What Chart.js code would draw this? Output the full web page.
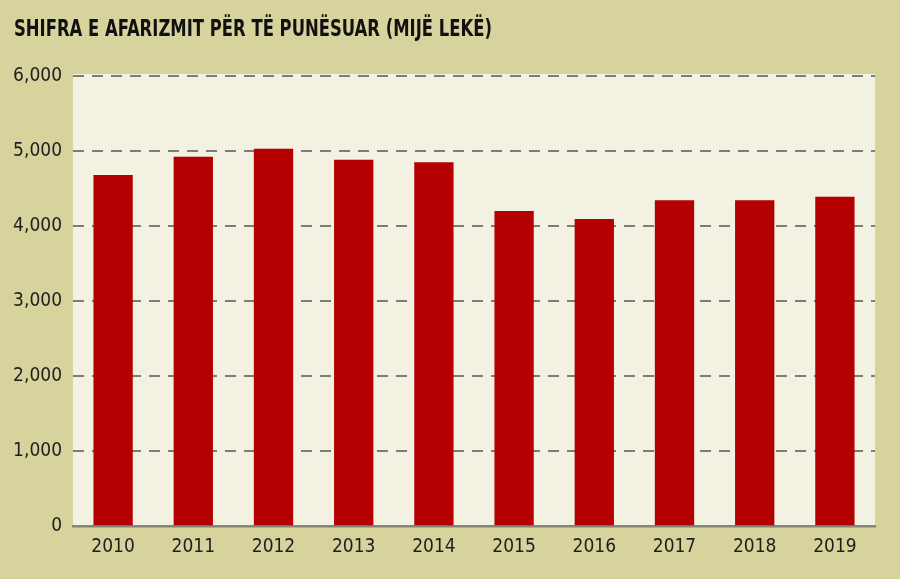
<!DOCTYPE html>
<html>
<head>
<meta charset="utf-8">
<script src="https://cdn.jsdelivr.net/npm/chart.js@4"></script>
<style>
  html, body { margin: 0; padding: 0; background: #d6d39d; }
  #wrap { width: 900px; height: 579px; }
</style>
</head>
<body>
<div id="wrap"><canvas id="bar_chart" width="900" height="579"></canvas></div>
<script>
var chartTitle = "SHIFRA E AFARIZMIT PËR TË PUNËSUAR (MIJË LEKË)";
var years = ["2010", "2011", "2012", "2013", "2014", "2015", "2016", "2017", "2018", "2019"];
var turnover = [4680, 4925, 5030, 4885, 4850, 4200, 4095, 4345, 4345, 4390];
var yTicks = [0, 1000, 2000, 3000, 4000, 5000, 6000];

var narrow = "'DejaVu Sans Condensed', 'Liberation Sans Narrow', sans-serif";

var backdrop = {
    id: 'backdrop',
    beforeDraw: function (chart) {
        var ctx = chart.ctx, a = chart.chartArea;
        ctx.save();
        ctx.fillStyle = '#d6d39d';
        ctx.fillRect(0, 0, chart.width, chart.height);
        ctx.fillStyle = '#f2f1e2';
        ctx.fillRect(a.left, a.top - 2, a.right - a.left, a.bottom - a.top + 2);
        ctx.restore();
    },
    afterDraw: function (chart) {
        var ctx = chart.ctx;
        ctx.save();
        ctx.font = "bold 21px " + narrow;
        ctx.fillStyle = '#111';
        ctx.textBaseline = 'middle';
        var w = ctx.measureText(chartTitle).width;
        ctx.translate(14, 30);
        ctx.scale(478 / w, 1.12);
        ctx.fillText(chartTitle, 0, 0);
        ctx.restore();
    }
};

new Chart(document.getElementById("bar_chart").getContext("2d"), {
    type: 'bar',
    data: {
        labels: years,
        datasets: [{
            data: turnover,
            backgroundColor: '#b40000',
            borderWidth: 0,
            barPercentage: 0.98,
            categoryPercentage: 0.5
        }]
    },
    options: {
        responsive: false,
        animation: false,
        layout: { padding: { left: 0, right: 25, top: 76, bottom: 12 } },
        plugins: { legend: { display: false }, tooltip: { enabled: false }, title: { display: false } },
        scales: {
            x: {
                grid: { display: false, drawTicks: false },
                border: { display: true, color: '#85857a', width: 2.5 },
                ticks: { color: '#1e1e1e', padding: 9, font: { family: narrow, size: 19 } }
            },
            y: {
                min: 0, max: 6000,
                afterFit: function (s) { s.width = 73; },
                afterBuildTicks: function (s) { s.ticks = yTicks.map(function (v) { return { value: v }; }); },
                border: { display: false, dash: [11, 8] },
                grid: { color: '#7d7d74', lineWidth: 2, drawTicks: false },
                ticks: {
                    color: '#1e1e1e', padding: 11,
                    font: { family: narrow, size: 19 },
                    callback: function (v) { return v.toLocaleString('en-US'); }
                }
            }
        }
    },
    plugins: [backdrop]
});
</script>
</body>
</html>
